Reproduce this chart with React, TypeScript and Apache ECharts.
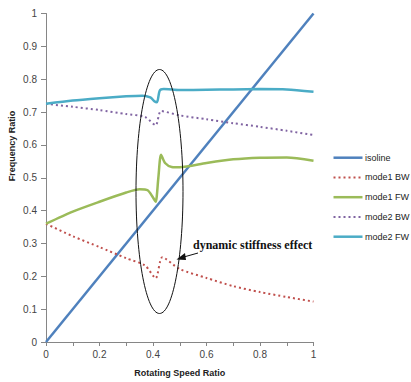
import React, { useEffect, useRef } from "react";
import * as echarts from "echarts";

const seriesNames = ["isoline", "mode1 BW", "mode1 FW", "mode2 BW", "mode2 FW"];

const isoline: [number, number][] = [[0, 0], [1, 1]];

const mode1BW: [number, number][] = [
  [0, 0.36], [0.1, 0.322], [0.2, 0.289], [0.3, 0.255], [0.37, 0.233], [0.41, 0.194],
  [0.435, 0.258], [0.5, 0.222], [0.6, 0.195], [0.7, 0.17], [0.8, 0.152], [0.9, 0.137], [1, 0.123],
];

const mode1FW: [number, number][] = [
  [0, 0.36], [0.1, 0.397], [0.2, 0.427], [0.3, 0.455], [0.35, 0.465], [0.38, 0.462], [0.4, 0.44],
  [0.41, 0.427], [0.42, 0.5], [0.43, 0.57], [0.445, 0.545], [0.47, 0.533], [0.5, 0.532],
  [0.6, 0.545], [0.7, 0.556], [0.8, 0.561], [0.9, 0.562], [1, 0.552],
];

const mode2BW: [number, number][] = [
  [0, 0.725], [0.1, 0.716], [0.2, 0.706], [0.3, 0.694], [0.37, 0.685], [0.41, 0.66],
  [0.43, 0.703], [0.5, 0.69], [0.6, 0.678], [0.7, 0.666], [0.8, 0.655], [0.9, 0.643], [1, 0.63],
];

const mode2FW: [number, number][] = [
  [0, 0.725], [0.1, 0.735], [0.2, 0.742], [0.3, 0.748], [0.36, 0.75], [0.39, 0.745],
  [0.405, 0.733], [0.415, 0.73], [0.425, 0.765], [0.44, 0.77], [0.5, 0.767], [0.6, 0.768],
  [0.7, 0.769], [0.8, 0.77], [0.9, 0.769], [1, 0.762],
];

const colors = ["#4F81BD", "#C0504D", "#9BBB59", "#8064A2", "#4BACC6"];
const annotationText = "dynamic stiffness effect";
const xTitle = "Rotating Speed Ratio";
const yTitle = "Frequency Ratio";

export default function App() {
  const ref = useRef<HTMLDivElement>(null);
  useEffect(() => {
    if (!ref.current) return;
    const chart = echarts.init(ref.current, null, { renderer: "svg" });
    const dataSets = [isoline, mode1BW, mode1FW, mode2BW, mode2FW];
    const dotted = [false, true, false, true, false];
    const labelStyle = { color: "#444", fontSize: 10, fontFamily: "Liberation Sans" };

    const legendGraphics: any[] = [];
    seriesNames.forEach((name, i) => {
      const y = 157.7 + i * 19.75;
      legendGraphics.push({
        type: "line",
        shape: { x1: 333.5, y1: y, x2: 362.5, y2: y },
        style: {
          stroke: colors[i],
          lineWidth: dotted[i] ? 2 : 2.5,
          lineDash: dotted[i] ? [2, 3] : null,
        },
      });
      legendGraphics.push({
        type: "text",
        x: 365,
        y,
        style: {
          text: name,
          fill: "#222",
          font: "9px 'Liberation Sans'",
          align: "left",
          verticalAlign: "middle",
        },
      });
    });

    chart.setOption({
      animation: false,
      backgroundColor: "#fff",
      grid: { left: 46, top: 13.5, right: 97.5, bottom: 39.5 },
      xAxis: {
        type: "value",
        min: 0,
        max: 1,
        interval: 0.1,
        name: xTitle,
        nameLocation: "middle",
        nameGap: 26,
        nameTextStyle: { color: "#222", fontSize: 9, fontWeight: "bold", fontFamily: "Liberation Sans" },
        axisLine: { lineStyle: { color: "#868686" } },
        axisTick: { length: 4, lineStyle: { color: "#868686" } },
        splitLine: { show: false },
        axisLabel: {
          ...labelStyle,
          margin: 7,
          formatter: (v: number) => (Math.round(v * 10) % 2 === 0 ? String(Math.round(v * 10) / 10) : ""),
        },
      },
      yAxis: {
        type: "value",
        min: 0,
        max: 1,
        interval: 0.1,
        axisLine: { show: true, lineStyle: { color: "#868686" } },
        axisTick: { show: true, length: 5, lineStyle: { color: "#868686" } },
        splitLine: { show: false },
        axisLabel: { ...labelStyle, margin: 9, formatter: (v: number) => String(Math.round(v * 10) / 10) },
      },
      series: seriesNames.map((name, i) => ({
        name,
        type: "line",
        data: dataSets[i],
        showSymbol: false,
        symbol: "none",
        smooth: i === 0 ? false : 0.25,
        color: colors[i],
        lineStyle: {
          color: colors[i],
          width: dotted[i] ? 2 : 2.5,
          type: dotted[i] ? [2, 3] : "solid",
        },
        z: 2,
      })),
      graphic: [
        ...legendGraphics,
        {
          type: "text",
          x: 12,
          y: 146,
          rotation: Math.PI / 2,
          style: {
            text: yTitle,
            fill: "#222",
            font: "bold 9px 'Liberation Sans'",
            align: "center",
            verticalAlign: "middle",
          },
        },
        {
          type: "ellipse",
          shape: { cx: 159.5, cy: 191.5, rx: 23.5, ry: 122 },
          style: { fill: "none", stroke: "#111", lineWidth: 1 },
          z: 10,
        },
        {
          type: "line",
          shape: { x1: 198, y1: 253, x2: 182, y2: 257.5 },
          style: { stroke: "#111", lineWidth: 1 },
          z: 10,
        },
        {
          type: "polygon",
          shape: { points: [[176.5, 259.5], [185, 253], [186, 260]] },
          style: { fill: "#111" },
          z: 10,
        },
        {
          type: "text",
          x: 193,
          y: 245,
          style: {
            text: annotationText,
            fill: "#111",
            font: "bold 12px 'Liberation Serif'",
            align: "left",
            verticalAlign: "middle",
          },
          z: 10,
        },
      ],
    });
    return () => chart.dispose();
  }, []);
  return (
    <div
      ref={ref}
      style={{ position: "fixed", left: 0, top: 0, width: 411, height: 382 }}
    />
  );
}
